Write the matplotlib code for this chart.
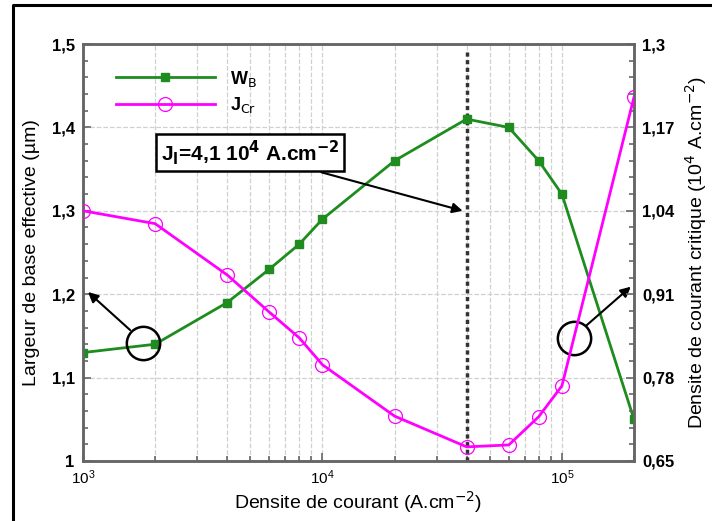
import matplotlib
matplotlib.use('Agg')
import matplotlib.pyplot as plt
from matplotlib.lines import Line2D
from matplotlib.ticker import FixedLocator, MultipleLocator, LogLocator, NullFormatter, FuncFormatter

plt.rcParams['font.family'] = ['Liberation Sans', 'DejaVu Sans']

# données
courant = [1e3, 2e3, 4e3, 6e3, 8e3, 1e4, 2e4, 4e4, 6e4, 8e4, 1e5, 2e5]
wb = [1.13, 1.14, 1.19, 1.23, 1.26, 1.29, 1.36, 1.41, 1.40, 1.36, 1.32, 1.05]
jcr = [1.04, 1.02, 0.94, 0.882, 0.842, 0.80, 0.72, 0.672, 0.675, 0.719, 0.767, 1.217]
j_l = 4e4
right_ticks = [0.65, 0.78, 0.91, 1.04, 1.17, 1.3]

green = '#1e8c1e'
magenta = '#ff00ff'
spine_col = '#666666'

fig = plt.figure(figsize=(7.12, 5.21), dpi=100)
ax = fig.add_axes([0.1166, 0.1152, 0.7738, 0.8003])
ax2 = ax.twinx()

ax.set_xscale('log')
ax.set_xlim(1e3, 2e5)
ax.set_ylim(1.0, 1.5)
ax2.set_ylim(0.65, 1.3)

ax.grid(True, which='both', axis='x', color='#d0d0d0', linestyle='--', linewidth=0.9)
ax.grid(True, which='major', axis='y', color='#d0d0d0', linestyle='--', linewidth=0.9)
ax.set_axisbelow(True)

ax.axvline(j_l, color='#333333', linestyle=(0, (1.2, 1.0)), linewidth=2.5, ymax=0.985, zorder=2)

l1, = ax.plot(courant, wb, color=green, lw=2, marker='s', ms=6, mfc=green, mec=green, zorder=3)
l2, = ax2.plot(courant, jcr, color=magenta, lw=2, marker='o', ms=10, mfc='none', mec=magenta,
               mew=0.9, zorder=3)

fmt = FuncFormatter(lambda v, p: ('%g' % v).replace('.', ','))
ax.yaxis.set_major_locator(MultipleLocator(0.1))
ax.yaxis.set_minor_locator(MultipleLocator(0.02))
ax.yaxis.set_major_formatter(fmt)
ax2.yaxis.set_major_locator(FixedLocator(right_ticks))
ax2.yaxis.set_minor_locator(MultipleLocator(0.026))
ax2.yaxis.set_major_formatter(fmt)
ax.xaxis.set_major_locator(LogLocator(base=10))
ax.xaxis.set_minor_locator(LogLocator(base=10, subs=range(2, 10)))
ax.xaxis.set_minor_formatter(NullFormatter())

for a in (ax, ax2):
    for s in a.spines.values():
        s.set_color(spine_col)
        s.set_linewidth(1.8)
    a.tick_params(which='both', direction='in', color=spine_col, width=1.2)
    a.tick_params(which='major', length=6)
    a.tick_params(which='minor', length=3.5)
ax.tick_params(axis='y', labelsize=12, pad=6)
ax.tick_params(axis='x', labelsize=11, pad=5)
ax2.tick_params(axis='y', labelsize=12, pad=6)
for lab in ax.get_yticklabels() + ax2.get_yticklabels():
    lab.set_fontweight('bold')

ax.set_xlabel('Densite de courant (A.cm$^{-2}$)', fontsize=14, labelpad=2)
ax.set_ylabel('Largeur de base effective (µm)', fontsize=14, labelpad=8)
ax2.set_ylabel('Densite de courant critique (10$^4$ A.cm$^{-2}$)', fontsize=14, labelpad=6)

leg = ax.legend([l1, l2], ['W$_\\mathrm{B}$', 'J$_\\mathrm{Cr}$'], loc='upper left',
                bbox_to_anchor=(0.03, 0.98), frameon=False, handlelength=5.5, fontsize=13,
                labelspacing=0.35)
for t in leg.get_texts():
    t.set_fontweight('bold')

ax.annotate('J$_\\mathbf{l}$=4,1 10$^\\mathbf{4}$ A.cm$^\\mathbf{-2}$', xy=(3.85e4, 1.30),
            xytext=(0.303, 0.739), textcoords='axes fraction', ha='center', va='center',
            fontsize=15, fontweight='bold',
            bbox=dict(boxstyle='square,pad=0.2', fc='white', ec='black', lw=1.8),
            arrowprops=dict(arrowstyle='-|>', color='black', lw=1.5, shrinkA=0, shrinkB=0,
                            mutation_scale=15), zorder=5)

# cercles et flèches vers les axes
ax.plot([1782], [1.1415], marker='o', ms=24, mfc='none', mec='black', mew=1.8, zorder=5)
ax.annotate('', xy=(1049, 1.2026), xytext=(1573, 1.157),
            arrowprops=dict(arrowstyle='-|>', color='black', lw=1.5, shrinkA=0, shrinkB=0,
                            mutation_scale=15), zorder=5)
ax.plot([1.12e5], [1.147], marker='o', ms=24, mfc='none', mec='black', mew=1.8, zorder=5)
ax.annotate('', xy=(1.94e5, 1.209), xytext=(1.26e5, 1.162),
            arrowprops=dict(arrowstyle='-|>', color='black', lw=1.5, shrinkA=0, shrinkB=0,
                            mutation_scale=15), zorder=5)

# cadre extérieur (haut et gauche)
fig.add_artist(Line2D([13 / 712, 13 / 712, 1.0], [0.0, 1 - 5 / 521, 1 - 5 / 521],
                      transform=fig.transFigure, color='black', lw=2.2))

fig.savefig('out.png', dpi=100)
